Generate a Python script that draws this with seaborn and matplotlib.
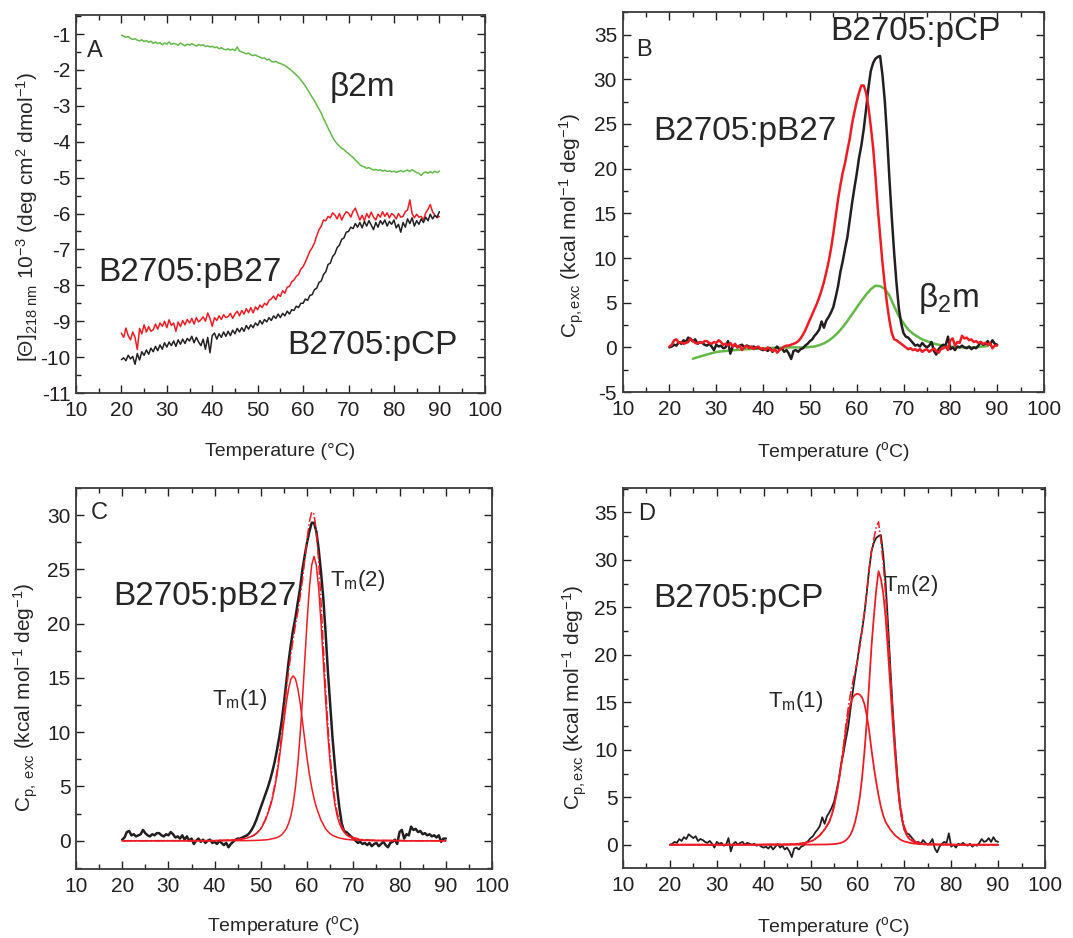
import numpy as np
import pandas as pd
import matplotlib
matplotlib.use("Agg")
import matplotlib.pyplot as plt
from matplotlib.ticker import MultipleLocator
import seaborn as sns

# temperature grid of the traces (0.5 C steps, 20-90 C)
temp = np.arange(20, 90.5, 0.5)

# --- panel A : CD at 218 nm (x 10^-3) ---
cd_b2m = [-1.03, -1.06, -1.09, -1.07, -1.12, -1.15, -1.13, -1.17, -1.19, -1.16,
          -1.21, -1.18, -1.23, -1.2, -1.26, -1.22, -1.27, -1.24, -1.3, -1.25,
          -1.28, -1.22, -1.29, -1.26, -1.28, -1.31, -1.25, -1.29, -1.33, -1.28,
          -1.31, -1.27, -1.3, -1.34, -1.29, -1.32, -1.3, -1.35, -1.33, -1.36,
          -1.34, -1.38, -1.36, -1.41, -1.38, -1.42, -1.44, -1.41, -1.45, -1.42,
          -1.46, -1.36, -1.47, -1.5, -1.52, -1.55, -1.53, -1.58, -1.6, -1.58,
          -1.62, -1.64, -1.68, -1.66, -1.72, -1.7, -1.76, -1.78, -1.76, -1.8,
          -1.82, -1.85, -1.88, -1.92, -1.97, -2.02, -2.08, -2.14, -2.2, -2.28,
          -2.36, -2.45, -2.55, -2.66, -2.76, -2.86, -2.98, -3.09, -3.2, -3.36,
          -3.48, -3.62, -3.74, -3.88, -3.98, -4.06, -4.12, -4.18, -4.22, -4.28,
          -4.33, -4.39, -4.44, -4.51, -4.57, -4.64, -4.68, -4.7, -4.74, -4.72,
          -4.76, -4.79, -4.77, -4.8, -4.78, -4.82, -4.79, -4.83, -4.81, -4.84,
          -4.82, -4.85, -4.83, -4.8, -4.84, -4.81, -4.79, -4.83, -4.78, -4.82,
          -4.86, -4.88, -4.94, -4.87, -4.84, -4.88, -4.83, -4.87, -4.82, -4.86,
          -4.82]
cd_pcp = [-10.07, -10.02, -10.1, -9.95, -10.05, -9.98, -10.2, -9.9, -10.08, -9.85,
          -9.95, -9.8, -9.92, -9.75, -9.85, -9.7, -9.82, -9.66, -9.78, -9.6,
          -9.72, -9.58, -9.68, -9.55, -9.7, -9.52, -9.64, -9.5, -9.62, -9.48,
          -9.55, -9.42, -9.6, -9.45, -9.58, -9.68, -9.5, -9.78, -9.45, -9.88,
          -9.4, -9.33, -9.5, -9.35, -9.45, -9.3, -9.42, -9.28, -9.4, -9.25,
          -9.35, -9.2, -9.3, -9.18, -9.28, -9.12, -9.22, -9.1, -9.18, -9.05,
          -9.12, -8.98, -9.08, -8.95, -9.02, -8.9, -8.98, -8.85, -8.92, -8.8,
          -8.9, -8.78, -8.85, -8.72, -8.8, -8.68, -8.7, -8.58, -8.62, -8.5,
          -8.5, -8.38, -8.42, -8.28, -8.26, -8.12, -8.08, -7.92, -7.88, -7.7,
          -7.62, -7.42, -7.38, -7.2, -7.12, -6.95, -6.88, -6.72, -6.68, -6.52,
          -6.5, -6.38, -6.42, -6.28, -6.38, -6.25, -6.4, -6.22, -6.35, -6.2,
          -6.32, -6.45, -6.25, -6.38, -6.2, -6.3, -6.18, -6.35, -6.22, -6.3,
          -6.18, -6.4, -6.3, -6.52, -6.25, -6.38, -6.15, -6.28, -6.12, -6.35,
          -6.2, -6.3, -6.15, -6.25, -6.1, -6.2, -6.02, -6.15, -6.05, -6.1,
          -5.95]
cd_pb27 = [-9.33, -9.45, -9.19, -9.4, -9.52, -9.3, -9.45, -9.79, -9.2, -9.35,
           -9.1, -9.3, -9.15, -9.28, -9.24, -9.08, -9.22, -9.05, -9.14, -9.0,
           -9.18, -8.96, -9.12, -9.05, -9.28, -9.02, -9.15, -8.98, -9.1, -8.95,
           -9.05, -8.92, -9.08, -8.9, -9.02, -8.96, -8.88, -9.0, -8.77, -8.92,
           -9.14, -8.9, -8.98, -8.85, -8.95, -8.82, -8.9, -8.87, -8.78, -8.92,
           -8.8, -8.72, -8.85, -8.7, -8.8, -8.65, -8.76, -8.62, -8.77, -8.6,
           -8.68, -8.55, -8.62, -8.5, -8.55, -8.42, -8.38, -8.3, -8.4, -8.25,
           -8.31, -8.15, -8.22, -8.05, -8.03, -7.9, -7.85, -7.75, -7.7, -7.55,
           -7.48, -7.35, -7.2, -7.05, -6.95, -6.82, -6.62, -6.45, -6.35, -6.18,
           -6.2, -6.08, -6.12, -5.98, -6.04, -6.15, -6.0, -6.18, -6.05, -5.95,
           -5.99, -6.1, -5.94, -5.85, -6.02, -6.18, -6.05, -6.2, -6.0, -6.12,
           -5.96, -6.1, -6.18, -6.02, -6.1, -5.95, -6.08, -5.98, -6.12, -6.0,
           -6.05, -6.15, -6.0, -6.1, -6.08, -5.95, -5.9, -5.62, -6.0, -6.12,
           -6.02, -6.1, -6.08, -6.18, -5.98, -5.88, -5.75, -5.95, -6.05, -6.12,
           -6.08]

# --- DSC excess heat capacity (kcal mol-1 deg-1) ---
dsc_pb27 = [0.1, 0.3, 0.8, 0.9, 0.5, 0.6, 0.4, 0.5, 0.6, 1.0,
            0.7, 0.5, 0.4, 0.6, 0.5, 0.7, 0.7, 0.5, 0.4, 0.6,
            0.5, 0.8, 0.6, 0.3, 0.4, 0.2, 0.5, 0.1, 0.4, 0.0,
            0.2, -0.3, 0.0, 0.2, -0.1, 0.1, -0.2, 0.0, 0.1, -0.2,
            -0.1, -0.3, 0.0, -0.2, -0.4, -0.2, -0.6, -0.3, -0.1, 0.1,
            0.2, 0.2, 0.3, 0.4, 0.5, 0.7, 1.0, 1.4, 1.9, 2.5,
            3.1, 3.7, 4.3, 4.9, 5.6, 6.4, 7.3, 8.4, 9.6, 11.0,
            12.7, 14.6, 16.5, 18.1, 19.5, 20.6, 22.0, 23.3, 25.0, 26.3,
            27.5, 28.5, 29.3, 29.3, 28.5, 26.9, 24.8, 22.4, 19.2, 15.6,
            12.5, 9.5, 7.0, 4.8, 3.0, 1.6, 0.9, 0.8, 0.6, 0.4,
            0.2, 0.0, -0.2, -0.1, -0.3, -0.2, -0.4, -0.2, -0.5, -0.3,
            -0.2, -0.5, -0.3, -0.1, -0.4, -0.6, -0.2, -0.1, 0.1, -0.3,
            0.8, 1.0, 0.2, 0.6, 0.5, 1.3, 1.0, 1.1, 0.8, 0.9,
            0.6, 0.7, 0.5, 0.6, 0.4, 0.5, 0.3, 0.5, -0.1, 0.2,
            0.2]
dsc_pcp = [0.0, 0.1, 0.3, 0.2, 0.6, 0.4, 0.8, 0.6, 1.1, 0.9,
           0.7, 0.9, 0.4, 0.6, 0.5, 0.3, 0.2, 0.4, 0.1, -0.3,
           0.3, 0.1, 0.2, -0.1, 0.0, 0.7, -0.7, 0.1, 0.3, 0.0,
           0.2, 0.3, 0.0, 0.2, 0.1, 0.0, 0.1, -0.1, 0.0, -0.2,
           -0.3, -0.2, -0.4, -0.1, -0.5, -0.2, 0.1, -0.3, -0.1, -0.5,
           -0.3, -0.7, -1.3, -0.4, -0.3, -0.5, -0.2, -0.1, 0.2, 0.4,
           0.7, 0.9, 1.3, 1.6, 2.0, 2.9, 2.2, 3.0, 3.4, 3.9,
           4.5, 5.6, 6.8, 8.4, 9.6, 11.0, 12.3, 14.2, 16.1, 17.8,
           19.4, 21.2, 22.6, 24.4, 26.6, 29.0, 30.9, 31.8, 32.3, 32.5,
           32.6, 30.5, 27.6, 23.5, 18.8, 14.5, 10.6, 7.2, 4.4, 2.7,
           1.6, 1.2, 1.1, 0.8, 0.5, 0.2, 0.3, 0.1, 0.5, 0.2,
           0.0, 0.2, 0.6, -0.4, -0.8, -0.2, 0.1, 0.3, 0.2, 1.2,
           -0.2, 0.0, -0.3, 0.1, 0.0, 0.2, 0.0, -0.1, 0.1, -0.2,
           0.0, -0.1, 0.2, 0.6, 0.3, 0.4, 0.7, 0.3, 0.8, 0.4,
           0.3]

# beta2m DSC trace (1 C steps, 25-88 C)
temp_b2m = np.arange(25, 89, 1)
dsc_b2m = [-1.27, -1.1, -0.95, -0.8, -0.65, -0.52, -0.45, -0.4, -0.35, -0.3,
           -0.26, -0.22, -0.19, -0.15, -0.12, -0.1, -0.08, -0.05, -0.04, -0.03,
           -0.02, 0.0, 0.0, 0.0, 0.0, 0.05, 0.1, 0.25, 0.45, 0.75,
           1.15, 1.65, 2.25, 2.95, 3.7, 4.45, 5.2, 5.9, 6.5, 6.9,
           6.85, 6.55, 5.8, 4.6, 3.5, 2.7, 2.0, 1.55, 1.2, 0.9,
           0.7, 0.5, 0.35, 0.25, 0.15, 0.1, 0.05, 0.0, 0.0, 0.0,
           0.0, 0.05, 0.1, 0.15]

# deconvolution components (same 0.5 C grid; flat zero in the far wings)
c_tm1 = [0.0] * 41 + [
    0.02, 0.02, 0.03, 0.03, 0.04, 0.05, 0.06, 0.07, 0.08, 0.1,
    0.13, 0.16, 0.2, 0.25, 0.32, 0.4, 0.5, 0.65, 0.85, 1.1,
    1.5, 1.9, 2.5, 3.1, 3.9, 4.9, 6.1, 7.6, 9.3, 11.0,
    12.7, 14.0, 14.9, 15.2, 14.9, 14.0, 12.7, 11.0, 9.3, 7.6,
    6.1, 4.9, 3.9, 3.1, 2.5, 1.9, 1.5, 1.1, 0.85, 0.65,
    0.5, 0.4, 0.32, 0.25, 0.2, 0.16, 0.13, 0.1, 0.08, 0.07,
    0.06, 0.05, 0.04, 0.03, 0.03, 0.02, 0.02, 0.02, 0.01, 0.01,
    0.01, 0.01, 0.01, 0.01, 0.01, 0.01, 0.01, 0.01, 0.01, 0.01,
    0.01] + [0.0] * 19
c_tm2 = [0.0] * 40 + [
    0.01, 0.01, 0.01, 0.01, 0.01, 0.01, 0.01, 0.01, 0.01, 0.01,
    0.01, 0.01, 0.01, 0.01, 0.02, 0.02, 0.02, 0.03, 0.03, 0.04,
    0.05, 0.06, 0.08, 0.1, 0.14, 0.18, 0.23, 0.3, 0.4, 0.55,
    0.8, 1.1, 1.6, 2.3, 3.4, 5.0, 7.1, 9.8, 13.0, 16.6,
    20.2, 23.3, 25.4, 26.2, 25.4, 23.3, 20.2, 16.6, 13.0, 9.8,
    7.1, 5.0, 3.4, 2.3, 1.6, 1.1, 0.8, 0.55, 0.4, 0.3,
    0.23, 0.18, 0.14, 0.1, 0.08, 0.06, 0.05, 0.04, 0.03, 0.03,
    0.02, 0.02, 0.02, 0.02, 0.01, 0.01, 0.01, 0.01, 0.01, 0.01,
    0.01] + [0.0] * 20
d_tm1 = [0.0] * 40 + [
    0.02, 0.02, 0.02, 0.02, 0.02, 0.02, 0.02, 0.02, 0.02, 0.02,
    0.03, 0.04, 0.05, 0.06, 0.08, 0.1, 0.13, 0.17, 0.22, 0.28,
    0.35, 0.45, 0.6, 0.8, 1.0, 1.3, 1.6, 2.0, 2.4, 3.1,
    4.0, 5.2, 6.6, 8.2, 10.0, 12.0, 13.6, 14.8, 15.5, 15.8,
    15.9, 15.8, 15.5, 14.8, 13.6, 12.0, 10.0, 8.2, 6.6, 5.2,
    4.0, 3.1, 2.4, 2.0, 1.6, 1.3, 1.0, 0.8, 0.6, 0.45,
    0.35, 0.28, 0.22, 0.17, 0.13, 0.1, 0.08, 0.06, 0.05, 0.04,
    0.03, 0.02, 0.02, 0.02, 0.02, 0.02, 0.02, 0.02, 0.02, 0.02,
    0.02] + [0.0] * 20
d_tm2 = [0.0] * 40 + [
    0.01, 0.01, 0.01, 0.01, 0.01, 0.01, 0.01, 0.01, 0.01, 0.01,
    0.01, 0.01, 0.01, 0.01, 0.01, 0.01, 0.01, 0.01, 0.01, 0.01,
    0.02, 0.02, 0.02, 0.02, 0.02, 0.02, 0.03, 0.03, 0.04, 0.05,
    0.07, 0.1, 0.14, 0.2, 0.3, 0.45, 0.7, 1.05, 1.6, 2.4,
    3.5, 5.0, 7.1, 9.8, 13.0, 17.0, 20.9, 24.0, 26.8, 28.8,
    28.0, 26.5, 24.0, 20.5, 16.8, 13.0, 9.6, 6.6, 4.3, 2.7,
    1.6, 1.0, 0.65, 0.45, 0.3, 0.2, 0.14, 0.1, 0.07, 0.05,
    0.04, 0.04, 0.03, 0.03, 0.02, 0.02, 0.02, 0.02, 0.01, 0.01,
    0.01] + [0.0] * 20

BLACK = "#231f20"
RED = "#ed1c24"
GREEN = "#62b946"

sns.set_theme(style="ticks")
plt.rcParams["font.family"] = ["Liberation Sans", "DejaVu Sans"]
plt.rcParams["mathtext.fontset"] = "custom"
plt.rcParams["mathtext.rm"] = "Liberation Sans"
plt.rcParams["mathtext.it"] = "Liberation Sans:italic"
plt.rcParams["mathtext.bf"] = "Liberation Sans:bold"
plt.rcParams["axes.unicode_minus"] = False

fig = plt.figure(figsize=(10.73, 9.38), dpi=100)
axA = fig.add_axes([0.0708, 0.581, 0.381, 0.403])
axB = fig.add_axes([0.5803, 0.582, 0.3926, 0.405])
axC = fig.add_axes([0.0708, 0.0736, 0.3877, 0.4061])
axD = fig.add_axes([0.5806, 0.0746, 0.3933, 0.4051])


def line(ax, x, y, color, lw, ls="-"):
    sns.lineplot(x=np.asarray(x), y=np.asarray(y), ax=ax, color=color,
                 linewidth=lw, linestyle=ls, estimator=None, sort=False)


def style(ax, ylim, ymaj, ymin, ylabel, xlabel, lab_x, lab_y, xl_y):
    ax.set_xlim(10, 100)
    ax.set_ylim(*ylim)
    ax.xaxis.set_major_locator(MultipleLocator(10))
    ax.xaxis.set_minor_locator(MultipleLocator(5))
    ax.yaxis.set_major_locator(MultipleLocator(ymaj))
    ax.yaxis.set_minor_locator(MultipleLocator(ymin))
    ax.tick_params(which="both", direction="in", top=True, right=True,
                   colors=BLACK, width=1.0)
    ax.tick_params(which="major", length=6, labelsize=15)
    ax.tick_params(which="minor", length=3.5)
    ax.tick_params(axis="x", pad=6)
    ax.tick_params(axis="y", pad=4)
    for s in ax.spines.values():
        s.set_color("#3a3a3a")
        s.set_linewidth(1.3)
    ax.set_ylabel(ylabel, fontsize=15, va="center")
    ax.yaxis.set_label_coords(lab_x, lab_y)
    ax.set_xlabel(xlabel, fontsize=14, va="center")
    ax.xaxis.set_label_coords(0.5, xl_y)


# A
line(axA, temp, cd_b2m, GREEN, 1.1)
line(axA, temp, cd_pb27, RED, 1.1)
line(axA, temp, cd_pcp, BLACK, 1.1)
style(axA, (-11, -0.47), 1, 0.5,
      r"$\mathregular{[\Theta]_{218\ nm}\ 10^{-3}\ (deg\ cm^{2}\ dmol^{-1})}$",
      "Temperature (°C)", -0.12, 0.466, -0.155)
axA.text(0.028, 0.905, "A", transform=axA.transAxes, fontsize=17, va="center")
axA.text(0.62, 0.807, "β2m", transform=axA.transAxes, fontsize=24, va="center")
axA.text(0.054, 0.32, "B2705:pB27", transform=axA.transAxes, fontsize=24, va="center")
axA.text(0.516, 0.127, "B2705:pCP", transform=axA.transAxes, fontsize=24, va="center")

# B
line(axB, temp_b2m, dsc_b2m, GREEN, 1.8)
line(axB, temp, dsc_pcp, BLACK, 1.8)
line(axB, temp, dsc_pb27, RED, 1.8)
style(axB, (-5, 37.5), 5, 2.5,
      r"$\mathregular{C_{p,exc}\ (kcal\ mol^{-1}\ deg^{-1})}$",
      r"Temperature ($\mathregular{^{o}}$C)", -0.12, 0.44, -0.157)
axB.text(0.031, 0.9, "B", transform=axB.transAxes, fontsize=17, va="center")
axB.text(0.492, 0.948, "B2705:pCP", transform=axB.transAxes, fontsize=24, va="center")
axB.text(0.073, 0.685, "B2705:pB27", transform=axB.transAxes, fontsize=24, va="center")
axB.text(0.702, 0.247, r"β$\mathregular{_2}$m", transform=axB.transAxes, fontsize=24, va="center")

# C
line(axC, temp, dsc_pb27, BLACK, 1.8)
line(axC, temp, c_tm1, RED, 1.1)
line(axC, temp, c_tm2, RED, 1.1)
line(axC, temp, np.add(c_tm1, c_tm2), RED, 1.1, "-.")
style(axC, (-2.6, 32.5), 5, 2.5,
      r"$\mathregular{C_{p,\ exc}\ (kcal\ mol^{-1}\ deg^{-1})}$",
      r"Temperature ($\mathregular{^{o}}$C)", -0.12, 0.45, -0.151)
axC.text(0.036, 0.934, "C", transform=axC.transAxes, fontsize=17, va="center")
axC.text(0.09, 0.715, "B2705:pB27", transform=axC.transAxes, fontsize=24, va="center")
axC.text(0.61, 0.758, r"T$\mathregular{_m}$(2)", transform=axC.transAxes, fontsize=16, va="center")
axC.text(0.326, 0.444, r"T$\mathregular{_m}$(1)", transform=axC.transAxes, fontsize=16, va="center")

# D
line(axD, temp, dsc_pcp, BLACK, 1.3)
line(axD, temp, d_tm1, RED, 1.3)
line(axD, temp, d_tm2, RED, 1.3)
line(axD, temp, np.add(d_tm1, d_tm2), RED, 1.1, "-.")
style(axD, (-2.45, 37.55), 5, 2.5,
      r"$\mathregular{C_{p,exc}\ (kcal\ mol^{-1}\ deg^{-1})}$",
      r"Temperature ($\mathregular{^{o}}$C)", -0.114, 0.449, -0.154)
axD.text(0.037, 0.933, "D", transform=axD.transAxes, fontsize=17, va="center")
axD.text(0.072, 0.708, "B2705:pCP", transform=axD.transAxes, fontsize=24, va="center")
axD.text(0.617, 0.743, r"T$\mathregular{_m}$(2)", transform=axD.transAxes, fontsize=16, va="center")
axD.text(0.344, 0.438, r"T$\mathregular{_m}$(1)", transform=axD.transAxes, fontsize=16, va="center")

fig.savefig("out.png", dpi=100, facecolor="white")
